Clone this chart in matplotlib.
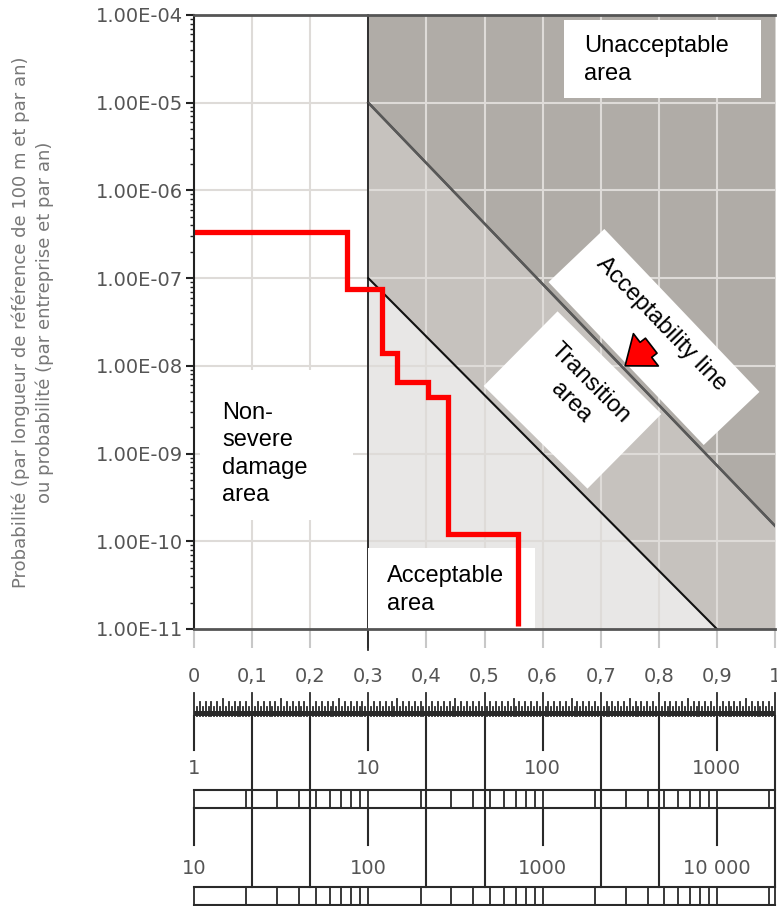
import numpy as np
import matplotlib
matplotlib.use("Agg")
import matplotlib.pyplot as plt
from matplotlib.patches import Rectangle, Polygon
from matplotlib.transforms import IdentityTransform
from matplotlib.ticker import FixedLocator, LogLocator, NullFormatter, FuncFormatter

# data
x_ticks = [0, 0.1, 0.2, 0.3, 0.4, 0.5, 0.6, 0.7, 0.8, 0.9, 1.0]
x_ticklabels = ["0", "0,1", "0,2", "0,3", "0,4", "0,5", "0,6", "0,7", "0,8", "0,9", "1"]
y_decades = [1e-11, 1e-10, 1e-9, 1e-8, 1e-7, 1e-6, 1e-5, 1e-4]

severe_x = 0.3
upper_x = [0.3, 1.0]          # acceptability line (top of transition)
upper_y = [1e-5, 1.5e-10]
lower_x = [0.3, 0.9, 1.0]     # bottom of transition
lower_y = [1e-7, 1e-11, 1e-11]

step_x = [0.0, 0.263, 0.324, 0.349, 0.403, 0.437, 0.558]
step_y = [3.4e-7, 7.5e-8, 1.4e-8, 6.6e-9, 4.4e-9, 1.2e-10, 1.08e-11]

row1_labels = ["1", "10", "100", "1000"]
row2_labels = ["10", "100", "1000", "10 000"]
label_pos = [0.0, 0.3, 0.6, 0.9]
long_lines = [0.1, 0.2, 0.4, 0.5, 0.7, 0.8, 1.0]

c_unacc = "#b0aca7"
c_trans = "#c6c2be"
c_acc = "#e8e7e6"
c_grid = "#dedbd8"
c_txt = "#555555"

W, H = 777, 906
fig = plt.figure(figsize=(W/100, H/100), dpi=100)
ax = fig.add_axes([194/W, 1-629/H, 581/W, 614/H])
ax.set_xlim(0, 1)
ax.set_yscale("log")
ax.set_ylim(1e-11, 1e-4)


def px(x, y):
    # picture pixel (from top-left) -> display coords
    return x, H - y


def rot_box(cx, cy, length, width, ang, z):
    a = np.deg2rad(ang)
    u = np.array([np.cos(a), np.sin(a)])
    v = np.array([-np.sin(a), np.cos(a)])
    c = np.array([cx, cy])
    pts = [c + s*u*length/2 + t*v*width/2 for s, t in [(-1, -1), (1, -1), (1, 1), (-1, 1)]]
    pts = [px(*p) for p in pts]
    ax.add_patch(Polygon(pts, closed=True, fc="white", ec="none",
                         transform=IdentityTransform(), zorder=z, clip_on=False))


# zones
up_at_09 = 10**(np.log10(upper_y[0]) + (np.log10(upper_y[1]) - np.log10(upper_y[0]))*0.6/0.7)
ax.fill_between(upper_x, upper_y, [1e-4, 1e-4], color=c_unacc, lw=0, zorder=1)
ax.fill_between(lower_x, lower_y, [upper_y[0], up_at_09, upper_y[1]],
                color=c_trans, lw=0, zorder=1)
ax.fill_between(lower_x, [1e-11]*3, lower_y, color=c_acc, lw=0, zorder=1)

# grid
for gx in x_ticks[1:-1]:
    ax.axvline(gx, color=c_grid, lw=1.5, zorder=2)
for gy in y_decades[1:-1]:
    ax.axhline(gy, color=c_grid, lw=1.5, zorder=2)

ax.plot(upper_x, upper_y, color="#333333", lw=1.8, zorder=3)
ax.plot(upper_x, upper_y, color="#888888", lw=1.5, alpha=0.45, zorder=5)
ax.plot(lower_x[:2], lower_y[:2], color="#111111", lw=1.5, zorder=3)
ax.plot([severe_x, severe_x], [1e-4, 10**-11.24], color="#111111", lw=1.2,
        zorder=3, clip_on=False)

# white label boxes
tf = dict(family="Liberation Sans", fontsize=17, color="black", zorder=7)
ax.add_patch(Rectangle((0.637, 0.865), 0.339, 0.127, transform=ax.transAxes,
                       fc="white", ec="none", zorder=4))
ax.text(0.671, 0.927, "Unacceptable\narea", transform=ax.transAxes,
        ha="left", va="center", linespacing=1.33, **tf)
ax.add_patch(Rectangle((0.010, 0.178), 0.263, 0.244, transform=ax.transAxes,
                       fc="white", ec="none", zorder=4))
ax.text(0.048, 0.285, "Non-\nsevere\ndamage\narea", transform=ax.transAxes,
        ha="left", va="center", linespacing=1.32, **tf)
ax.add_patch(Rectangle((0.3, 0.0), 0.287, 0.132, transform=ax.transAxes,
                       fc="white", ec="none", zorder=4))
ax.text(0.332, 0.064, "Acceptable\narea", transform=ax.transAxes,
        ha="left", va="center", linespacing=1.33, **tf)

rot_box(654, 337, 225, 77, 46.4, 4)
ax.text(*px(661, 324), "Acceptability line", rotation=-46, rotation_mode="anchor",
        ha="center", va="center", transform=IdentityTransform(), **tf)
rot_box(572.5, 400, 146, 105, 44.7, 4)
ax.text(*px(581, 393), "Transition\narea", rotation=-45, rotation_mode="anchor",
        ha="center", va="center", multialignment="center", linespacing=1.3,
        transform=IdentityTransform(), **tf)
ax.annotate("", xy=(0.742, 10**-8.0), xytext=(0.787, 10**-7.77),
            arrowprops=dict(arrowstyle="simple,head_width=1.4,head_length=0.9,tail_width=0.65",
                            fc="red", ec="black", lw=1.2, mutation_scale=21,
                            shrinkA=0, shrinkB=0), zorder=8)

# red step curve
ax.step(step_x, step_y, where="post", color="red", lw=3.8, zorder=6,
        solid_joinstyle="miter", solid_capstyle="butt")

# axes styling
ax.spines["right"].set_visible(False)
ax.spines["top"].set_color("#555555")
ax.spines["top"].set_linewidth(2)
ax.spines["bottom"].set_color("#555555")
ax.spines["bottom"].set_linewidth(2)
ax.spines["left"].set_color("#222222")
ax.spines["left"].set_linewidth(1.5)
for s in ax.spines.values():
    s.set_zorder(9)

ax.xaxis.set_major_locator(FixedLocator(x_ticks))
ax.set_xticklabels(x_ticklabels)
ax.tick_params(axis="x", length=14, width=1.5, color="#c8c8c8", pad=13,
               labelsize=14, labelcolor=c_txt)
ax.yaxis.set_major_locator(FixedLocator(y_decades))
ax.yaxis.set_major_formatter(FuncFormatter(lambda v, p: f"{v:.2E}"))
ax.yaxis.set_minor_locator(LogLocator(base=10, subs=np.arange(2, 10)))
ax.yaxis.set_minor_formatter(NullFormatter())
ax.tick_params(axis="y", which="major", length=6, width=1.5, color="#222222",
               labelsize=14, labelcolor=c_txt, pad=2)
ax.tick_params(axis="y", which="minor", length=3, width=1, color="#222222")

fig.text(33/W, 1-322/H,
         "Probabilité (par longueur de référence de 100 m et par an)\n"
         "ou probabilité (par entreprise et par an)",
         rotation=90, ha="center", va="center", multialignment="center",
         fontsize=13, color="#777777", linespacing=1.35)

# lower conversion scales
bx = fig.add_axes([194/W, 0, 581/W, 216/H])
bx.set_xlim(0, 1)
bx.set_ylim(906, 690)
bx.axis("off")
lc = "#2a2a2a"

ruler_base = 716
for i in range(201):
    v = i * 0.005
    if i % 20 == 0:
        h = 23
    elif i % 10 == 0:
        h = 17
    elif i % 2 == 0:
        h = 14
    else:
        h = 9
    bx.plot([v, v], [ruler_base, ruler_base - h], color=lc, lw=1.3, clip_on=False)
bx.fill_between([0, 1], [ruler_base, ruler_base], [ruler_base - 5, ruler_base - 5],
                color=lc, lw=0, clip_on=False)

for v in long_lines:
    bx.plot([v, v], [ruler_base, 887], color=lc, lw=1.5, clip_on=False)

rows = [(790, 808, row1_labels, 768, 750, 1), (887, 905, row2_labels, 868, 845, 10)]
for top, bot, labels, ly, short_end, base in rows:
    start = ruler_base if base == 1 else 808
    for p, lab in zip(label_pos, labels):
        bx.plot([p, p], [start, short_end], color=lc, lw=1.5, clip_on=False)
        bx.text(p, ly, lab, ha="center", va="center", fontsize=14, color=c_txt)
    bx.plot([0, 1], [top, top], color=lc, lw=1.5, clip_on=False)
    bx.plot([0, 1], [bot, bot], color=lc, lw=1.5, clip_on=False)
    for d in range(4):
        for k in range(1, 10):
            p = 0.3 * np.log10(k * 10**d)
            if p <= 1.0001:
                bx.plot([p, p], [top, bot], color=lc, lw=1.3, clip_on=False)
    bx.plot([1, 1], [top, bot], color=lc, lw=1.3, clip_on=False)

fig.savefig("out.png", dpi=100)
